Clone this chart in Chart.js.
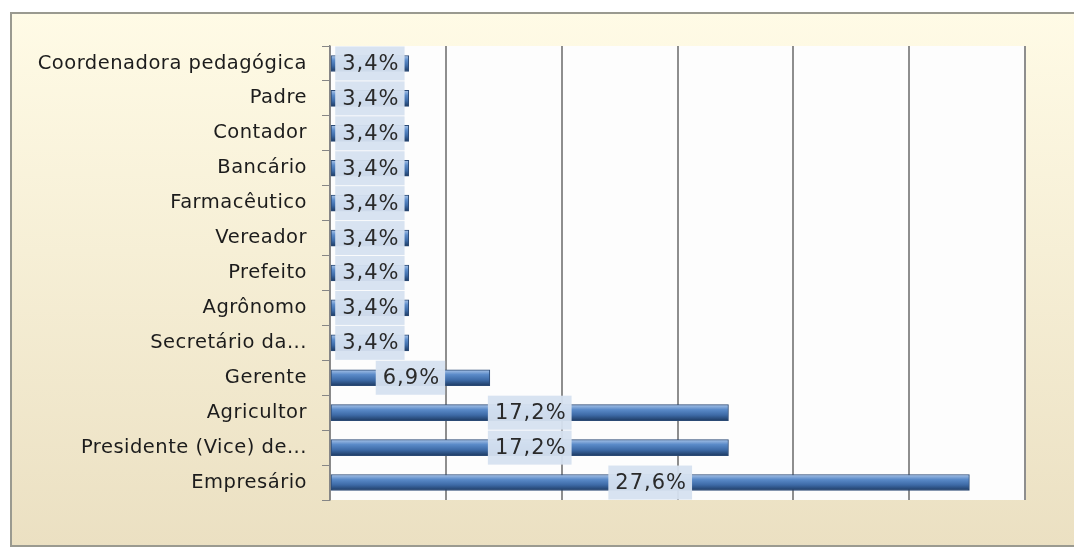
<!DOCTYPE html>
<html>
<head>
<meta charset="utf-8">
<script src="https://cdn.jsdelivr.net/npm/chart.js@4"></script>
<style>
  html, body { margin: 0; padding: 0; background: #ffffff; overflow: hidden; }
  #wrap { width: 1074px; height: 552px; }
</style>
</head>
<body>
<div id="wrap"><canvas id="chart"></canvas></div>
<script>
// categories, top to bottom
const categories = [
    'Coordenadora pedagógica', 'Padre', 'Contador', 'Bancário', 'Farmacêutico',
    'Vereador', 'Prefeito', 'Agrônomo', 'Secretário da...', 'Gerente',
    'Agricultor', 'Presidente (Vice) de...', 'Empresário'
];
// percentages
const percentValues = [3.4, 3.4, 3.4, 3.4, 3.4, 3.4, 3.4, 3.4, 3.4, 6.9, 17.2, 17.2, 27.6];
// x axis: 0..30 in steps of 5 (no labels shown)
const xMin = 0;
const xMax = 30;
const xStep = 5;

const FONT = "'DejaVu Sans', Verdana, sans-serif";

// frame with beige gradient + white plot area (frame runs off the right edge)
const framePlugin = {
    id: 'frame',
    beforeDraw(chart) {
        const ctx = chart.ctx;
        const a = chart.chartArea;
        const W = chart.width;
        ctx.save();
        ctx.fillStyle = '#ffffff';
        ctx.fillRect(0, 0, W, chart.height);
        const g = ctx.createLinearGradient(0, 12, 0, 547);
        g.addColorStop(0, '#fffbe6');
        g.addColorStop(1, '#ebe0c2');
        ctx.fillStyle = g;
        ctx.fillRect(10, 12, W - 10, 535);
        ctx.strokeStyle = '#9a9a90';
        ctx.lineWidth = 2;
        ctx.beginPath();
        ctx.moveTo(W, 13);
        ctx.lineTo(11, 13);
        ctx.lineTo(11, 546);
        ctx.lineTo(W, 546);
        ctx.stroke();
        ctx.fillStyle = '#fdfdfd';
        ctx.fillRect(a.left, a.top, a.right - a.left, a.bottom - a.top);
        ctx.restore();
        ctx.letterSpacing = '0.5px';
    }
};

// value boxes centred on each bar
const valueLabels = {
    id: 'valueLabels',
    afterDatasetsDraw(chart) {
        const ctx = chart.ctx;
        const meta = chart.getDatasetMeta(0);
        ctx.save();
        ctx.font = '21px ' + FONT;
        ctx.letterSpacing = '1px';
        ctx.textAlign = 'center';
        ctx.textBaseline = 'middle';
        meta.data.forEach((bar, i) => {
            const txt = percentValues[i].toFixed(1).replace('.', ',') + '%';
            const cx = (bar.x + bar.base) / 2;
            const cy = bar.y;
            const w = ctx.measureText(txt).width + 12;
            const h = 34;
            ctx.fillStyle = 'rgba(214, 225, 240, 0.95)';
            ctx.fillRect(cx - w / 2, cy - h / 2, w, h);
            ctx.fillStyle = '#2a2a2a';
            ctx.fillText(txt, cx + 1, cy + 1);
        });
        ctx.restore();
    }
};

function barGradient(c) {
    const y = c.chart.scales.y;
    const py = y ? y.getPixelForValue(c.dataIndex) : NaN;
    if (!Number.isFinite(py)) return '#4f81bd';
    const g = c.chart.ctx.createLinearGradient(0, py - 8, 0, py + 8);
    g.addColorStop(0, '#a9c4e8');
    g.addColorStop(0.3, '#5b8bc9');
    g.addColorStop(0.65, '#3d6aa6');
    g.addColorStop(1, '#1e3b63');
    return g;
}

new Chart(document.getElementById('chart'), {
    type: 'bar',
    data: {
        labels: categories,
        datasets: [{
            data: percentValues,
            backgroundColor: barGradient,
            borderColor: '#2b4a75',
            borderWidth: 1,
            borderSkipped: false,
            barThickness: 16
        }]
    },
    options: {
        indexAxis: 'y',
        responsive: true,
        maintainAspectRatio: false,
        animation: false,
        layout: { padding: { left: 0, right: 49, top: 46, bottom: 52 } },
        plugins: {
            legend: { display: false },
            tooltip: { enabled: false },
            title: { display: false }
        },
        scales: {
            x: {
                min: xMin,
                max: xMax,
                ticks: { display: false, stepSize: xStep },
                grid: { color: '#8e8e8e', lineWidth: 2, drawTicks: false },
                border: { display: false },
                afterFit(scale) { scale.height = 0; }
            },
            y: {
                ticks: {
                    color: '#1c1c1c',
                    padding: 15,
                    font: { family: FONT, size: 19.5 }
                },
                grid: {
                    drawOnChartArea: false,
                    color: '#868686',
                    tickLength: 8
                },
                border: { display: true, color: '#868686', width: 1.5 },
                afterFit(scale) { scale.width = 330; }
            }
        }
    },
    plugins: [framePlugin, valueLabels]
});
</script>
</body>
</html>
